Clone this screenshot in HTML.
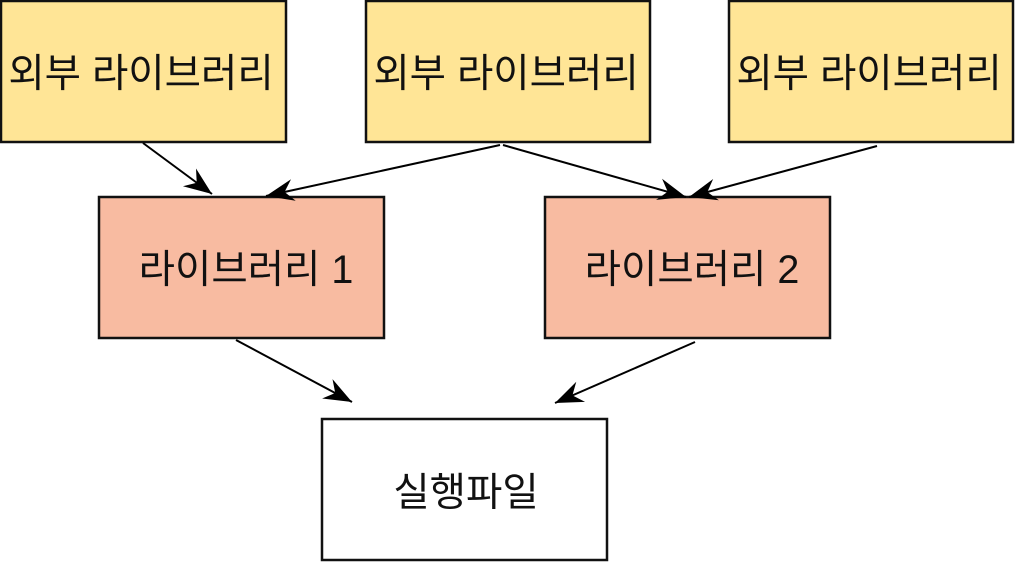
<!DOCTYPE html>
<html><head><meta charset="utf-8">
<style>
html,body{margin:0;padding:0;background:#fff;}
svg{display:block;}
text{font-family:"Liberation Sans","Noto Sans CJK KR",sans-serif;font-size:39.5px;fill:#111;}
</style></head>
<body>
<svg width="1016" height="562" viewBox="0 0 1016 562" xmlns="http://www.w3.org/2000/svg">
<defs>
<marker id="ah" markerUnits="userSpaceOnUse" viewBox="-30 -13 32 26" refX="0" refY="0" markerWidth="32" markerHeight="26" orient="auto">
<path d="M0,0 L-28,-11 L-19,0 L-28,11 Z" fill="#000"/>
</marker>
</defs>
<rect x="1" y="1" width="285" height="141" fill="#ffe596" stroke="#111" stroke-width="2.5"/>
<rect x="366" y="1" width="284" height="141" fill="#ffe596" stroke="#111" stroke-width="2.5"/>
<rect x="729" y="1" width="284" height="141" fill="#ffe596" stroke="#111" stroke-width="2.5"/>
<rect x="99" y="197" width="285" height="141" fill="#f8bba1" stroke="#111" stroke-width="2.5"/>
<rect x="545" y="197" width="285" height="141" fill="#f8bba1" stroke="#111" stroke-width="2.5"/>
<rect x="322" y="419" width="285" height="141" fill="#ffffff" stroke="#111" stroke-width="2.5"/>

<text x="141" y="87" text-anchor="middle">외부 라이브러리</text>
<text x="506" y="87" text-anchor="middle">외부 라이브러리</text>
<text x="869" y="87" text-anchor="middle">외부 라이브러리</text>
<text x="246" y="283" text-anchor="middle">라이브러리 1</text>
<text x="692" y="283" text-anchor="middle">라이브러리 2</text>
<text x="466" y="506" text-anchor="middle">실행파일</text>

<g stroke="#000" stroke-width="2" fill="none" marker-end="url(#ah)">
<line x1="143" y1="143" x2="212" y2="194"/>
<line x1="500" y1="145" x2="266" y2="196"/>
<line x1="503" y1="145" x2="686" y2="197"/>
<line x1="877" y1="146" x2="689" y2="197"/>
<line x1="236" y1="340" x2="352" y2="402"/>
<line x1="695" y1="342" x2="555" y2="403"/>
</g>
</svg>
</body></html>
